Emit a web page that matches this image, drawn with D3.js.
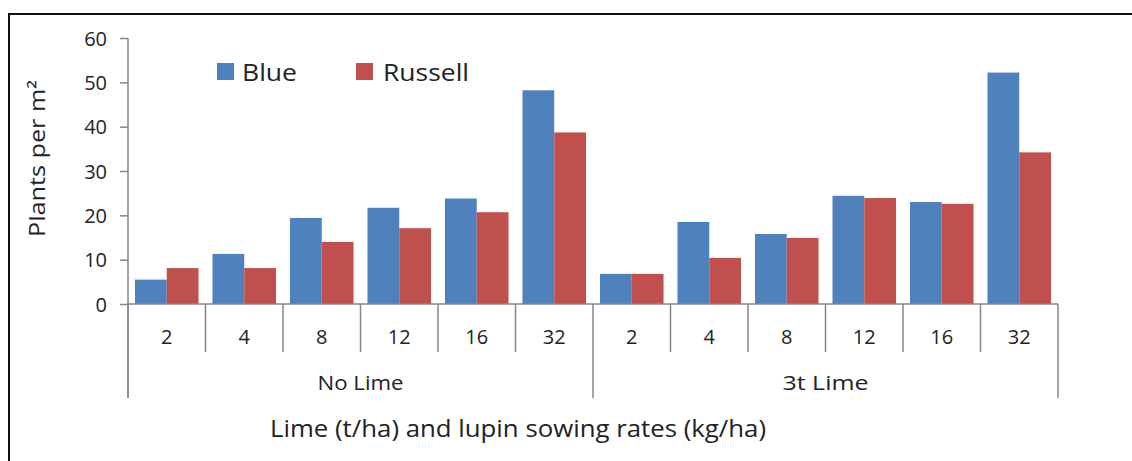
<!DOCTYPE html>
<html>
<head>
<meta charset="utf-8">
<script src="https://cdn.jsdelivr.net/npm/d3@7"></script>
<style>
  html, body { margin: 0; padding: 0; background: #fff; }
  svg { display: block; }
  text { font-family: "Open Sans", "Liberation Sans", sans-serif; fill: #222; }
</style>
</head>
<body>
<svg id="chart" width="1132" height="461"></svg>
<script>
// ---- data ----
const groups = ["No Lime", "3t Lime"];
const rates = ["2", "4", "8", "12", "16", "32"];
const seriesNames = ["Blue", "Russell"];
const blueValues = [5.5, 11.3, 19.4, 21.7, 23.8, 48.2, 6.8, 18.5, 15.8, 24.4, 23.0, 52.2];
const russellValues = [8.1, 8.1, 14.0, 17.1, 20.7, 38.7, 6.8, 10.4, 14.9, 23.9, 22.6, 34.2];
const yTicks = [0, 10, 20, 30, 40, 50, 60];
const colors = ["#4F81BD", "#C0504D"];

// ---- layout ----
const svg = d3.select("#chart");
const W = 1132, H = 461;
const plotLeft = 128, plotRight = 1058, plotTop = 38, zeroY = 304;

svg.append("rect").attr("width", W).attr("height", H).attr("fill", "#fff");
// outer frame (right and bottom edges lie outside the picture)
svg.append("rect").attr("x", 9).attr("y", 14).attr("width", 1300).attr("height", 600)
  .attr("fill", "none").attr("stroke", "#111").attr("stroke-width", 2);

const cats = [];
groups.forEach((g, gi) => rates.forEach((r, ri) => cats.push({ group: g, rate: r, i: gi * rates.length + ri })));

const y = d3.scaleLinear().domain([0, 60]).range([zeroY, plotTop]);
const xb = d3.scaleLinear().domain([0, cats.length]).range([plotLeft, plotRight]);
const x = d3.scaleBand().domain(cats.map(c => c.i)).range([plotLeft, plotRight]).paddingInner(0.18).paddingOuter(0.09);
const xs = d3.scaleBand().domain(seriesNames).range([0, x.bandwidth()]);

const axisColor = "#868686";

// bars
const values = [blueValues, russellValues];
seriesNames.forEach((s, si) => {
  svg.append("g").selectAll("rect").data(cats).join("rect")
    .attr("x", c => x(c.i) + xs(s))
    .attr("y", c => y(values[si][c.i]))
    .attr("width", xs.bandwidth())
    .attr("height", c => y(0) - y(values[si][c.i]))
    .attr("fill", colors[si]);
});

// y axis
const yAxis = svg.append("g").attr("transform", `translate(${plotLeft},0)`)
  .call(d3.axisLeft(y).tickValues(yTicks).tickSize(8).tickPadding(13).tickFormat(d3.format("d")));
yAxis.select(".domain").attr("stroke", axisColor).attr("stroke-width", 1.5)
  .attr("d", `M0,${plotTop}V${zeroY + 94}`);
yAxis.selectAll(".tick line").attr("stroke", axisColor).attr("stroke-width", 1.5);
yAxis.selectAll(".tick text").style("font-size", "20px").attr("fill", "#222").attr("dy", "0.36em");

// x axis line
svg.append("line").attr("x1", plotLeft).attr("x2", plotRight).attr("y1", zeroY).attr("y2", zeroY)
  .attr("stroke", axisColor).attr("stroke-width", 1.5);
// category separators
const bounds = d3.range(0, cats.length + 1);
svg.append("g").selectAll("line").data(bounds).join("line")
  .attr("x1", d => xb(d)).attr("x2", d => xb(d))
  .attr("y1", zeroY)
  .attr("y2", d => (d % rates.length === 0) ? zeroY + 94 : zeroY + 48)
  .attr("stroke", axisColor).attr("stroke-width", 1.5);

// category labels
svg.append("g").selectAll("text").data(cats).join("text")
  .attr("x", c => x(c.i) + x.bandwidth() / 2)
  .attr("y", 344)
  .attr("text-anchor", "middle")
  .style("font-size", "20px")
  .text(c => c.rate);

// group labels
svg.append("g").selectAll("text").data(groups).join("text")
  .attr("x", (g, gi) => (xb(gi * rates.length) + xb((gi + 1) * rates.length)) / 2 - 43)
  .attr("y", 390)
  .style("font-size", "20px")
  .attr("textLength", 86).attr("lengthAdjust", "spacingAndGlyphs")
  .text(g => g);

// x axis title
svg.append("text").attr("x", 270).attr("y", 437)
  .style("font-size", "23px")
  .attr("textLength", 496).attr("lengthAdjust", "spacingAndGlyphs")
  .text("Lime (t/ha) and lupin sowing rates (kg/ha)");

// y axis title
svg.append("text").attr("transform", "translate(45,237) rotate(-90)")
  .style("font-size", "22px")
  .attr("textLength", 157).attr("lengthAdjust", "spacingAndGlyphs")
  .text("Plants per m²");

// legend
const legendX = [217, 356];
const legendTextX = [242, 383];
const legendLen = [55, 86];
seriesNames.forEach((s, si) => {
  svg.append("rect").attr("x", legendX[si]).attr("y", 63).attr("width", 17).attr("height", 17).attr("fill", colors[si]);
  svg.append("text").attr("x", legendTextX[si]).attr("y", 81).style("font-size", "23px")
    .attr("textLength", legendLen[si]).attr("lengthAdjust", "spacingAndGlyphs").text(s);
});
</script>
</body>
</html>
